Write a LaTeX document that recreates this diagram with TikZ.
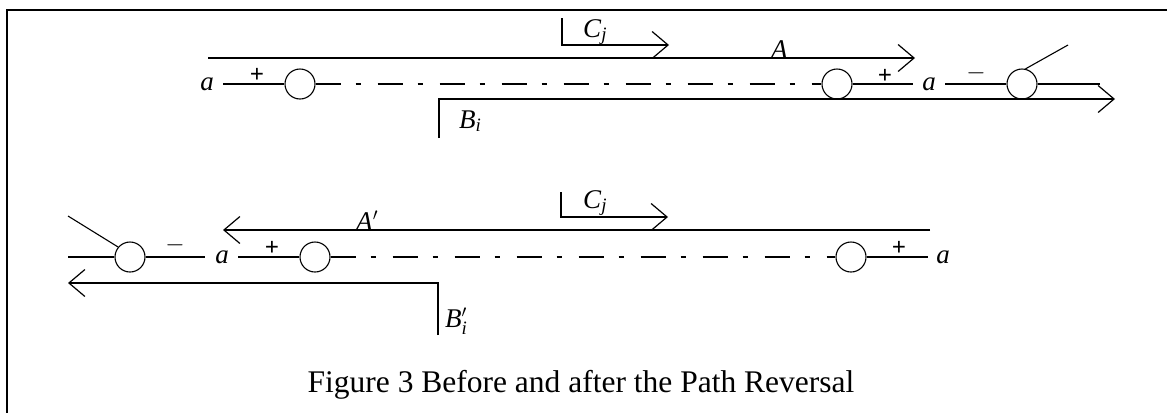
\documentclass[tikz,border=0pt]{standalone}
\usepackage{fontspec}
\usepackage{amsmath}
\setmainfont{Liberation Serif}
\usetikzlibrary{arrows.meta}
\begin{document}
\begin{tikzpicture}[x=1pt,y=-1pt,
  wire/.style={line width=1.1pt},
  ring/.style={circle,draw,line width=1.1pt,minimum size=30pt,inner sep=0pt},
  lbl/.style={font=\fontsize{27}{30}\selectfont,inner sep=0pt},
  sgn/.style={font=\fontsize{25}{28}\selectfont\bfseries,inner sep=0pt},
  msgn/.style={font=\fontsize{26}{28}\selectfont,inner sep=0pt},
  flow/.style={line width=1.2pt,-{Straight Barb[length=16pt,width=27pt]}},
  dd/.style={wire,dash pattern=on 25pt off 15pt on 5pt off 17pt}]
\useasboundingbox (0,0) rectangle (1167,413);
\draw[line width=2.2pt] (1167,10) -- (7,10) -- (7,413);
% ---- top (before) ----
\node[ring] (t1) at (300,84) {};
\node[ring] (t2) at (837,84) {};
\node[ring] (t3) at (1022,84) {};
\node[lbl] (ta1) at (207,84) {\textit{a}};
\node[lbl] (ta2) at (929,84) {\textit{a}};
\node[sgn] (tp1) at (257,75) {+};
\node[sgn] (tp2) at (885,76) {+};
\node[msgn] (tm1) at (976,73) {$-$};
\coordinate (w1) at (223,84);
\coordinate (w2) at (913,84);
\coordinate (w3) at (945,84);
\coordinate (w4) at (1100,84);
\coordinate (w5) at (1068,45);
\draw[wire] (w1) -- (t1.west);
\draw[dd] (t1.east) -- (t2.west);
\draw[wire] (t2.east) -- (w2);
\draw[wire] (w3) -- (t3.west);
\draw[wire] (t3.east) -- (w4);
\draw[wire] (t3.77) -- (w5);
\coordinate (As) at (208,58);
\coordinate (Ae) at (915,58);
\draw[flow] (As) -- (Ae);
\coordinate (Bs) at (439,138);
\coordinate (Bc) at (439,99);
\coordinate (Be) at (1115,99);
\draw[flow] (Bs) -- (Bc) -- (Be);
\coordinate (Cs) at (562,18);
\coordinate (Cc) at (562,45);
\coordinate (Ce) at (669,45);
\draw[flow] (Cs) -- (Cc) -- (Ce);
\node[lbl,anchor=base west] (tC) at (583,37) {\textit{C}$_{\textit{j}}$};
\node[lbl,anchor=base west] (tA) at (771,58) {\textit{A}};
\node[lbl,anchor=base west] (tB) at (459,128) {\textit{B}$_{\textit{i}}$};
% ---- bottom (after) ----
\node[ring] (b1) at (130,257) {};
\node[ring] (b2) at (315,257) {};
\node[ring] (b3) at (851,257) {};
\node[lbl] (ba1) at (222,257) {\textit{a}};
\node[lbl] (ba2) at (943,257) {\textit{a}};
\node[msgn] (bm1) at (175,245) {$-$};
\node[sgn] (bp1) at (272,248) {+};
\node[sgn] (bp2) at (899,248) {+};
\coordinate (v1) at (68,257);
\coordinate (v2) at (68,216);
\coordinate (v3) at (205,257);
\coordinate (v4) at (238,257);
\coordinate (v5) at (928,257);
\draw[wire] (v1) -- (b1.west);
\draw[wire] (v2) -- (b1.140);
\draw[wire] (b1.east) -- (v3);
\draw[wire] (v4) -- (b2.west);
\draw[dd] (b2.east) -- (b3.west);
\draw[wire] (b3.east) -- (v5);
\coordinate (A2s) at (930,230);
\coordinate (A2e) at (223,230);
\draw[flow] (A2s) -- (A2e);
\coordinate (C2s) at (561,192);
\coordinate (C2c) at (561,217);
\coordinate (C2e) at (668,217);
\draw[flow] (C2s) -- (C2c) -- (C2e);
\coordinate (B2s) at (438,335);
\coordinate (B2c) at (438,283);
\coordinate (B2e) at (68,283);
\draw[flow] (B2s) -- (B2c) -- (B2e);
\node[lbl,anchor=base west] (bC) at (583,208) {\textit{C}$_{\textit{j}}$};
\node[lbl,anchor=base west] (bA) at (356,230) {\textit{A}$'$};
\node[lbl,anchor=base west] (bB) at (445,327) {\textit{B}$'_{\textit{i}}$};
% ---- caption ----
\node[font=\fontsize{31.5}{36}\selectfont,inner sep=0pt] (cap) at (581,385) {Figure 3 Before and after the Path Reversal};
\end{tikzpicture}
\end{document}
